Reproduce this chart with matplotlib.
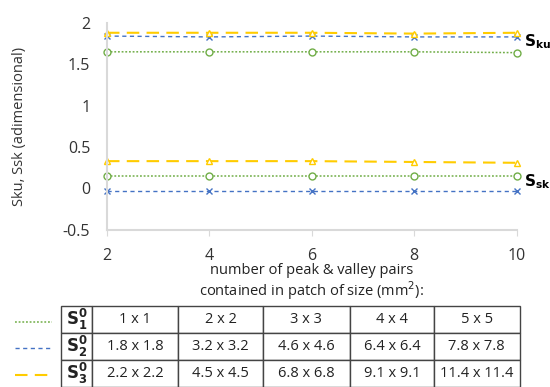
import numpy as np
import matplotlib.pyplot as plt

plt.rcParams['font.family'] = ['Open Sans', 'DejaVu Sans']

# number of peak & valley pairs
pairs = [2, 4, 6, 8, 10]

# kurtosis (Sku) and skewness (Ssk) for the three surfaces
sku_s1 = [1.65, 1.65, 1.65, 1.65, 1.64]
sku_s2 = [1.84, 1.83, 1.84, 1.83, 1.83]
sku_s3 = [1.88, 1.88, 1.88, 1.87, 1.88]
ssk_s1 = [0.155, 0.155, 0.155, 0.155, 0.155]
ssk_s2 = [-0.03, -0.03, -0.03, -0.03, -0.03]
ssk_s3 = [0.33, 0.33, 0.33, 0.32, 0.31]

row_labels = [r"$\mathbf{S^0_1}$", r"$\mathbf{S^0_2}$", r"$\mathbf{S^0_3}$"]
patch_sizes = [
    ["1 x 1", "2 x 2", "3 x 3", "4 x 4", "5 x 5"],
    ["1.8 x 1.8", "3.2 x 3.2", "4.6 x 4.6", "6.4 x 6.4", "7.8 x 7.8"],
    ["2.2 x 2.2", "4.5 x 4.5", "6.8 x 6.8", "9.1 x 9.1", "11.4 x 11.4"],
]

green = "#70AD47"
blue = "#4472C4"
yellow = "#FFCC00"
styles = [
    dict(color=green, linestyle=(0, (1.2, 1.2)), marker="o", mfc="white", ms=5, lw=1.1),
    dict(color=blue, linestyle=(0, (3, 2.5)), marker="x", ms=4.5, lw=1.0),
    dict(color=yellow, linestyle=(0, (6, 3.5)), marker="^", mfc="white", ms=5, lw=1.5),
]

fig = plt.figure(figsize=(5.5, 3.87), dpi=100)
ax = fig.add_axes([0.1945, 0.406, 0.745, 0.535])

for sku, ssk, st in zip([sku_s1, sku_s2, sku_s3], [ssk_s1, ssk_s2, ssk_s3], styles):
    ax.plot(pairs, sku, clip_on=False, **st)
    ax.plot(pairs, ssk, clip_on=False, **st)

ax.set_xlim(2, 10)
ax.set_ylim(-0.5, 2)
ax.set_xticks([2, 4, 6, 8, 10])
ax.set_yticks([-0.5, 0, 0.5, 1, 1.5, 2])
ax.set_yticklabels(["-0.5", "0", "0.5", "1", "1.5", "2"])
for s in ["top", "right"]:
    ax.spines[s].set_visible(False)
for s in ["left", "bottom"]:
    ax.spines[s].set_color("#d9d9d9")
    ax.spines[s].set_linewidth(1.5)
ax.tick_params(axis="y", length=0, labelsize=11.5, pad=12, labelcolor="#333333")
ax.tick_params(axis="x", length=4, color="#d9d9d9", labelsize=11.5, pad=9,
               labelcolor="#333333")
ax.set_ylabel("Sku, Ssk (adimensional)", fontsize=10.5, color="#333333", labelpad=26)

fig.text(0.567, 0.302, "number of peak & valley pairs", ha="center", va="center",
         fontsize=10.5, color="#222222")
fig.text(0.567, 0.25, "contained in patch of size (mm$^2$):", ha="center", va="center",
         fontsize=10.5, color="#222222")

fig.text(0.953, 0.892, r"$\mathbf{S_{ku}}$", ha="left", va="center", fontsize=11)
fig.text(0.953, 0.53, r"$\mathbf{S_{sk}}$", ha="left", va="center", fontsize=11)

# table
tax = fig.add_axes([0.111, 0.0, 0.834, 0.209])
tax.axis("off")
cells = [[lab] + row for lab, row in zip(row_labels, patch_sizes)]
col_w = np.array([31, 86, 85, 87, 84, 86], dtype=float)
tbl = tax.table(cellText=cells, colWidths=list(col_w / col_w.sum()),
                cellLoc="center", bbox=[0, 0, 1, 1])
tbl.auto_set_font_size(False)
for (r, c), cell in tbl.get_celld().items():
    cell.set_edgecolor("#444444")
    cell.set_linewidth(1.0)
    cell.get_text().set_fontsize(12 if c == 0 else 10.5)
    cell.get_text().set_color("#222222")

# legend swatches next to the table rows
for y, st in zip([0.168, 0.101, 0.032], styles):
    st2 = {k: v for k, v in st.items() if k not in ("marker", "mfc", "ms")}
    fig.add_artist(plt.Line2D([0.027, 0.095], [y, y], transform=fig.transFigure, **st2))

fig.savefig("out.png", dpi=100)
